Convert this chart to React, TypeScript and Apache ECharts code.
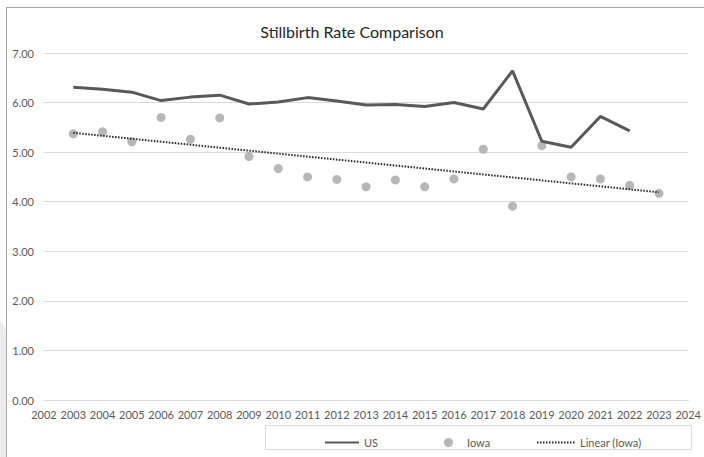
import React, { useEffect, useRef } from "react";
import * as echarts from "echarts";

const usYears = [2003, 2004, 2005, 2006, 2007, 2008, 2009, 2010, 2011, 2012, 2013, 2014, 2015, 2016, 2017, 2018, 2019, 2020, 2021, 2022];
const usRates = [6.31, 6.27, 6.21, 6.04, 6.11, 6.15, 5.97, 6.01, 6.1, 6.03, 5.95, 5.96, 5.92, 6.0, 5.87, 6.64, 5.22, 5.1, 5.72, 5.43];
const iowaYears = [2003, 2004, 2005, 2006, 2007, 2008, 2009, 2010, 2011, 2012, 2013, 2014, 2015, 2016, 2017, 2018, 2019, 2020, 2021, 2022, 2023];
const iowaRates = [5.37, 5.41, 5.21, 5.7, 5.26, 5.69, 4.91, 4.67, 4.5, 4.45, 4.3, 4.44, 4.3, 4.46, 5.06, 3.91, 5.13, 4.5, 4.46, 4.33, 4.17];
const trendYears = [2003, 2023];
const trendRates = [5.39, 4.19];

const FONT = "Lato, 'Open Sans', sans-serif";

export default function App() {
  const ref = useRef<HTMLDivElement>(null);
  useEffect(() => {
    if (!ref.current) return;
    const chart = echarts.init(ref.current, undefined, { renderer: "svg" });
    const legendText = { color: "#595959", fontSize: 11, fontFamily: FONT };
    chart.setOption({
      animation: false,
      backgroundColor: "#ffffff",
      textStyle: { fontFamily: FONT },
      title: {
        text: "Stillbirth Rate Comparison",
        left: "center",
        top: 18,
        textStyle: { fontSize: 16, fontWeight: "normal", color: "#262626", fontFamily: FONT },
      },
      grid: { left: 44, right: 10, top: 53, bottom: 57, containLabel: false },
      xAxis: {
        type: "value",
        min: 2002,
        max: 2024,
        interval: 1,
        axisLine: { show: true, lineStyle: { color: "#d9d9d9" } },
        axisTick: { show: false },
        splitLine: { show: false },
        axisLabel: { formatter: (v: number) => String(v), color: "#595959", fontSize: 11, margin: 9, fontFamily: FONT },
      },
      yAxis: {
        type: "value",
        min: 0,
        max: 7,
        interval: 1,
        axisLine: { show: false },
        axisTick: { show: false },
        splitLine: { lineStyle: { color: "#d9d9d9" } },
        axisLabel: { formatter: (v: number) => v.toFixed(2), color: "#595959", fontSize: 11, margin: 10, fontFamily: FONT },
      },
      legend: [
        { data: ["US"], left: 319, top: 432, itemWidth: 34, itemHeight: 10, itemGap: 0, itemStyle: { opacity: 0 }, textStyle: legendText },
        { data: ["Iowa"], left: 439, top: 432, itemWidth: 9, itemHeight: 9, textStyle: { ...legendText, padding: [0, 0, 0, 9] } },
        { data: ["Linear (Iowa)"], left: 531, top: 432, itemWidth: 38, itemHeight: 10, itemStyle: { opacity: 0 }, textStyle: legendText },
      ],
      graphic: [
        { type: "polygon", shape: { points: [[0, 320], [6, 330], [6, 457], [0, 457]] }, style: { fill: "#ececec" }, silent: true },
        { type: "line", shape: { x1: 6.5, y1: 7, x2: 6.5, y2: 457 }, style: { stroke: "#a6a6a6", lineWidth: 1 }, silent: true },
        { type: "line", shape: { x1: 6, y1: 7.5, x2: 704, y2: 7.5 }, style: { stroke: "#a6a6a6", lineWidth: 1 }, silent: true },
        { type: "rect", shape: { x: 265.5, y: 425.5, width: 426, height: 24 }, style: { fill: "none", stroke: "#d9d9d9", lineWidth: 1 }, silent: true },
      ],
      series: [
        {
          name: "Iowa",
          type: "scatter",
          symbol: "circle",
          symbolSize: 9,
          itemStyle: { color: "#a5a5a5" },
          data: iowaYears.map((y, i) => [y, iowaRates[i]]),
          z: 2,
        },
        {
          name: "US",
          type: "line",
          showSymbol: false,
          symbol: "none",
          lineStyle: { color: "#595959", width: 3 },
          itemStyle: { color: "#595959" },
          data: usYears.map((y, i) => [y, usRates[i]]),
          z: 3,
        },
        {
          name: "Linear (Iowa)",
          type: "line",
          showSymbol: false,
          symbol: "none",
          lineStyle: { color: "#262626", width: 2, type: [1.5, 1.5] },
          itemStyle: { color: "#262626" },
          data: trendYears.map((y, i) => [y, trendRates[i]]),
          z: 4,
        },
      ],
    });
    return () => chart.dispose();
  }, []);
  return <div ref={ref} style={{ position: "fixed", left: 0, top: 0, width: 704, height: 457 }} />;
}
